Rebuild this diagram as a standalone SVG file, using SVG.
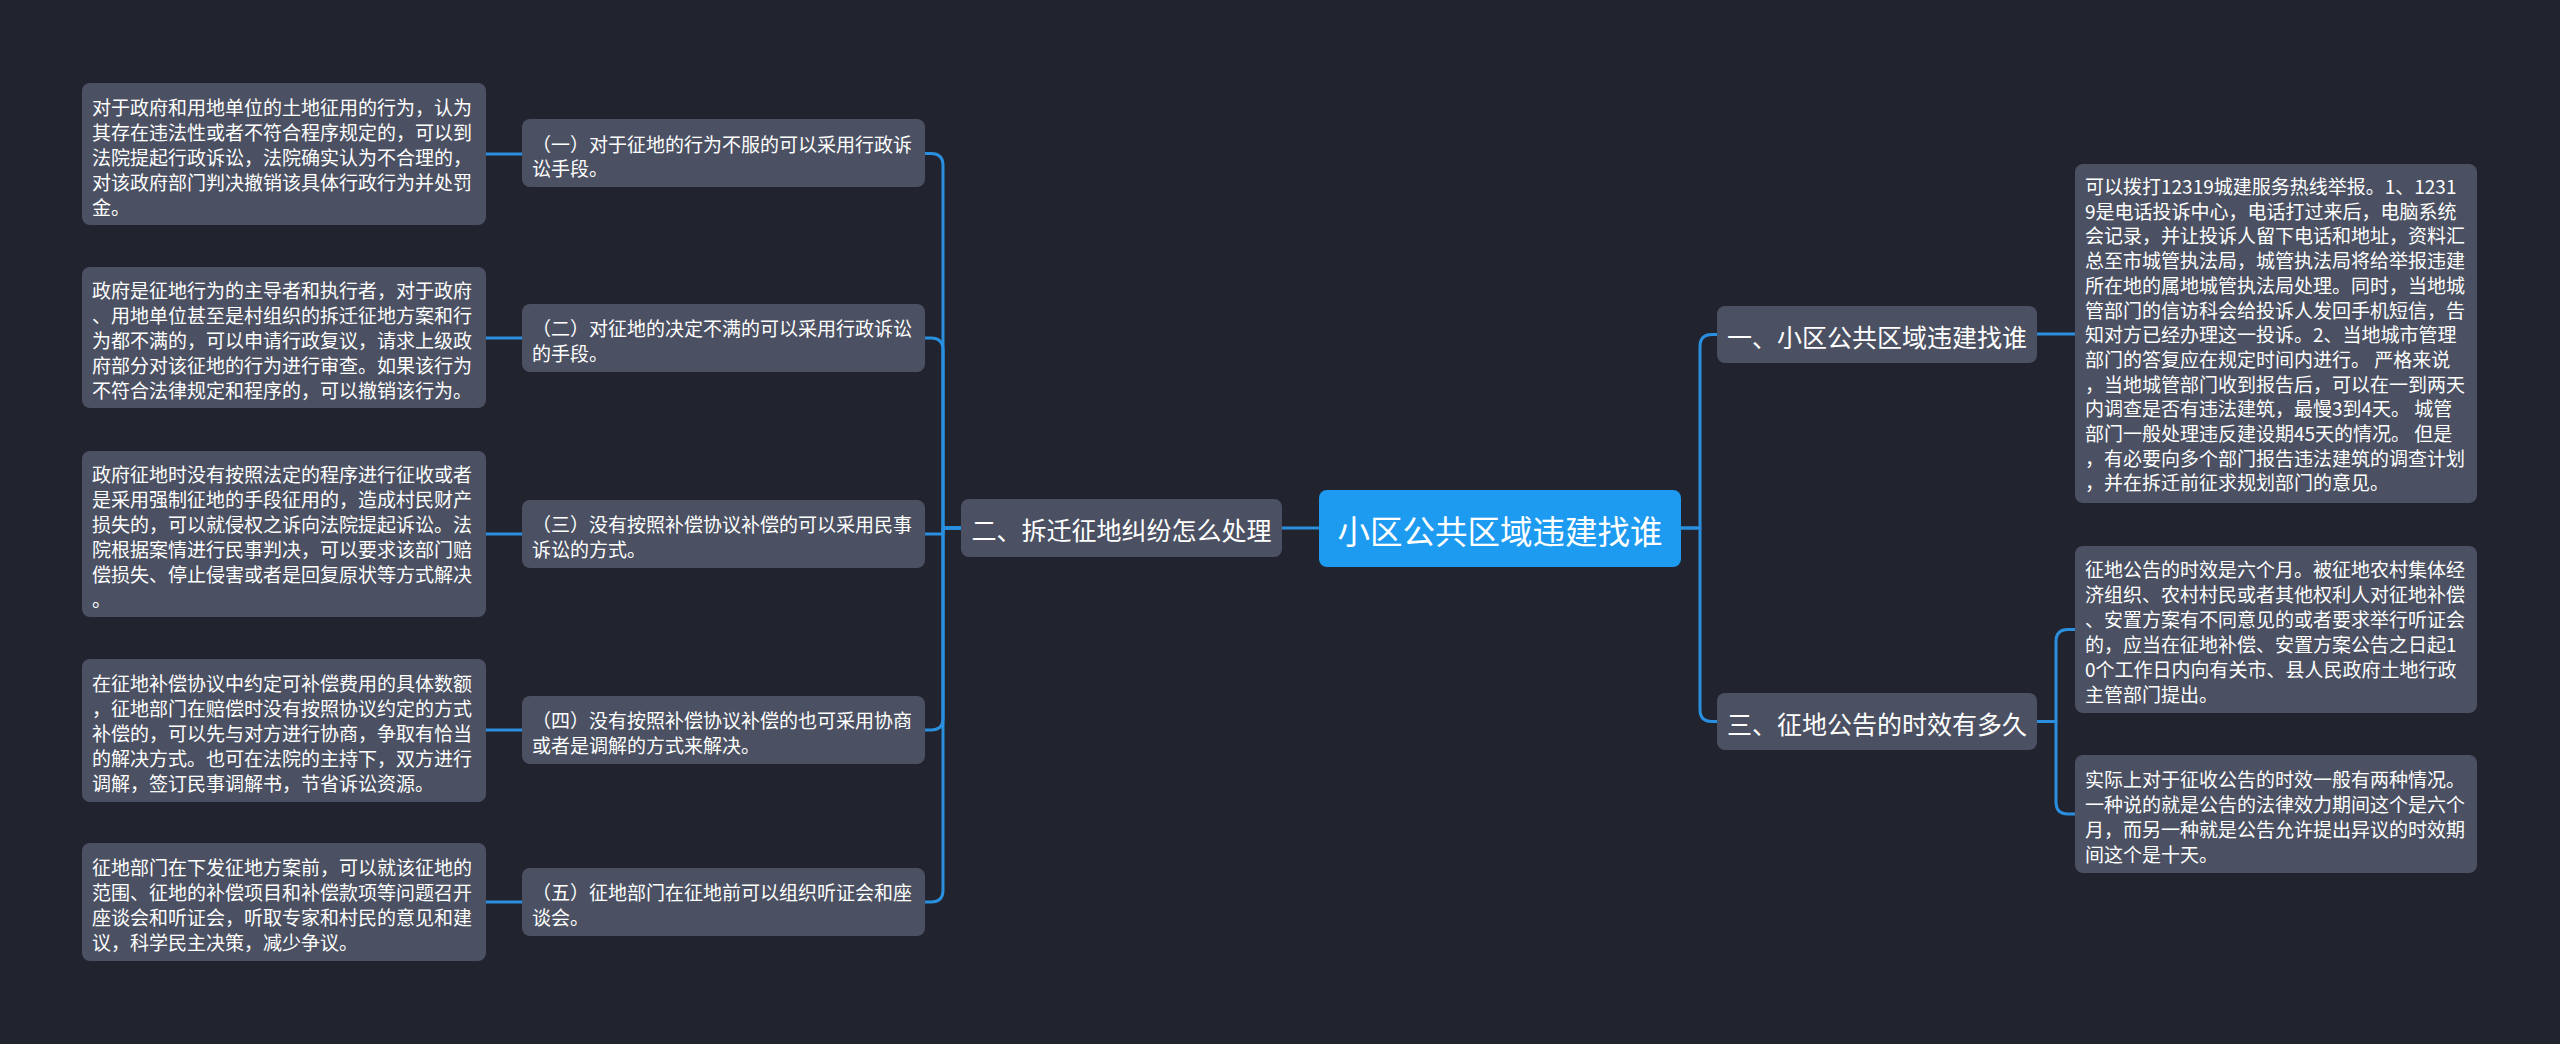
<svg xmlns="http://www.w3.org/2000/svg" width="2560" height="1044" viewBox="0 0 2560 1044">
<style>
.bg{fill:#21242e}
.box{fill:#4b5162}
.main{fill:#1d9bf0}
.t{font-family:"Noto Sans CJK SC","Noto Sans",sans-serif;fill:#ffffff;dominant-baseline:central}
.s{font-size:19px}
.m{font-size:25px}
.b{font-size:32.5px}
.c{fill:none;stroke:#2b8fe0;stroke-width:3;stroke-linecap:round;stroke-linejoin:round}
</style>
<rect class="bg" x="0" y="0" width="2560" height="1044"/>
<g id="connectors">
<path class="c" d="M1319,528 H1282"/>
<path class="c" d="M961,528 H943 V165.5 Q943,153.5 931,153.5 H925"/>
<path class="c" d="M961,528 H943 V350 Q943,338 931,338 H925"/>
<path class="c" d="M961,528 H943 V534 H925"/>
<path class="c" d="M961,528 H943 V718 Q943,730 931,730 H925"/>
<path class="c" d="M961,528 H943 V890 Q943,902 931,902 H925"/>
<path class="c" d="M486,154 H522"/>
<path class="c" d="M486,338 H522"/>
<path class="c" d="M486,534 H522"/>
<path class="c" d="M486,730 H522"/>
<path class="c" d="M486,902 H522"/>
<path class="c" d="M1681,528 H1700 V346.5 Q1700,334.5 1712,334.5 H1717"/>
<path class="c" d="M1681,528 H1700 V709.5 Q1700,721.5 1712,721.5 H1717"/>
<path class="c" d="M2037,334 H2075"/>
<path class="c" d="M2037,721.5 H2056 V641.5 Q2056,629.5 2068,629.5 H2075"/>
<path class="c" d="M2037,721.5 H2056 V802 Q2056,814 2068,814 H2075"/>
</g>
<g id="main">
<rect class="main" x="1319" y="490" width="362" height="77" rx="8"/>
<text class="t b" x="1500" y="529" text-anchor="middle">小区公共区域违建找谁</text>
</g>
<g id="n2">
<rect class="box" x="961" y="499" width="321" height="58" rx="8"/>
<text class="t m" x="1121.5" y="529" text-anchor="middle">二、拆迁征地纠纷怎么处理</text>
</g>
<g id="n1">
<rect class="box" x="1717" y="306" width="320" height="57" rx="8"/>
<text class="t m" x="1877" y="335.5" text-anchor="middle">一、小区公共区域违建找谁</text>
</g>
<g id="n3">
<rect class="box" x="1717" y="693" width="320" height="57" rx="8"/>
<text class="t m" x="1877" y="722.5" text-anchor="middle">三、征地公告的时效有多久</text>
</g>
<g id="s1">
<rect class="box" x="522" y="119" width="403" height="68" rx="8"/>
<text class="t s" x="532"><tspan x="532" y="142.5">（一）对于征地的行为不服的可以采用行政诉</tspan><tspan x="532" y="167">讼手段。</tspan></text>
</g>
<g id="s2">
<rect class="box" x="522" y="304" width="403" height="68" rx="8"/>
<text class="t s" x="532"><tspan x="532" y="327">（二）对征地的决定不满的可以采用行政诉讼</tspan><tspan x="532" y="351.5">的手段。</tspan></text>
</g>
<g id="s3">
<rect class="box" x="522" y="500" width="403" height="68" rx="8"/>
<text class="t s" x="532"><tspan x="532" y="523">（三）没有按照补偿协议补偿的可以采用民事</tspan><tspan x="532" y="547.5">诉讼的方式。</tspan></text>
</g>
<g id="s4">
<rect class="box" x="522" y="696" width="403" height="68" rx="8"/>
<text class="t s" x="532"><tspan x="532" y="719">（四）没有按照补偿协议补偿的也可采用协商</tspan><tspan x="532" y="743.5">或者是调解的方式来解决。</tspan></text>
</g>
<g id="s5">
<rect class="box" x="522" y="868" width="403" height="68" rx="8"/>
<text class="t s" x="532"><tspan x="532" y="891">（五）征地部门在征地前可以组织听证会和座</tspan><tspan x="532" y="915.5">谈会。</tspan></text>
</g>
<g id="l1">
<rect class="box" x="82" y="83" width="404" height="142" rx="8"/>
<text class="t s"><tspan x="92" y="105.5">对于政府和用地单位的土地征用的行为，认为</tspan><tspan x="92" y="130.5">其存在违法性或者不符合程序规定的，可以到</tspan><tspan x="92" y="155.5">法院提起行政诉讼，法院确实认为不合理的，</tspan><tspan x="92" y="180.5">对该政府部门判决撤销该具体行政行为并处罚</tspan><tspan x="92" y="205.5">金。</tspan></text>
</g>
<g id="l2">
<rect class="box" x="82" y="267" width="404" height="141" rx="8"/>
<text class="t s"><tspan x="92" y="289">政府是征地行为的主导者和执行者，对于政府</tspan><tspan x="92" y="314">、用地单位甚至是村组织的拆迁征地方案和行</tspan><tspan x="92" y="339">为都不满的，可以申请行政复议，请求上级政</tspan><tspan x="92" y="364">府部分对该征地的行为进行审查。如果该行为</tspan><tspan x="92" y="389">不符合法律规定和程序的，可以撤销该行为。</tspan></text>
</g>
<g id="l3">
<rect class="box" x="82" y="451" width="404" height="166" rx="8"/>
<text class="t s"><tspan x="92" y="473">政府征地时没有按照法定的程序进行征收或者</tspan><tspan x="92" y="498">是采用强制征地的手段征用的，造成村民财产</tspan><tspan x="92" y="523">损失的，可以就侵权之诉向法院提起诉讼。法</tspan><tspan x="92" y="548">院根据案情进行民事判决，可以要求该部门赔</tspan><tspan x="92" y="573">偿损失、停止侵害或者是回复原状等方式解决</tspan><tspan x="92" y="598">。</tspan></text>
</g>
<g id="l4">
<rect class="box" x="82" y="659" width="404" height="143" rx="8"/>
<text class="t s"><tspan x="92" y="682">在征地补偿协议中约定可补偿费用的具体数额</tspan><tspan x="92" y="707">，征地部门在赔偿时没有按照协议约定的方式</tspan><tspan x="92" y="732">补偿的，可以先与对方进行协商，争取有恰当</tspan><tspan x="92" y="757">的解决方式。也可在法院的主持下，双方进行</tspan><tspan x="92" y="782">调解，签订民事调解书，节省诉讼资源。</tspan></text>
</g>
<g id="l5">
<rect class="box" x="82" y="843" width="404" height="118" rx="8"/>
<text class="t s"><tspan x="92" y="865.5">征地部门在下发征地方案前，可以就该征地的</tspan><tspan x="92" y="890.5">范围、征地的补偿项目和补偿款项等问题召开</tspan><tspan x="92" y="915.5">座谈会和听证会，听取专家和村民的意见和建</tspan><tspan x="92" y="940.5">议，科学民主决策，减少争议。</tspan></text>
</g>
<g id="r1">
<rect class="box" x="2075" y="164" width="402" height="339" rx="8"/>
<text class="t s"><tspan x="2085" y="185">可以拨打12319城建服务热线举报。1、1231</tspan><tspan x="2085" y="209.7">9是电话投诉中心，电话打过来后，电脑系统</tspan><tspan x="2085" y="234.4">会记录，并让投诉人留下电话和地址，资料汇</tspan><tspan x="2085" y="259.1">总至市城管执法局，城管执法局将给举报违建</tspan><tspan x="2085" y="283.8">所在地的属地城管执法局处理。同时，当地城</tspan><tspan x="2085" y="308.5">管部门的信访科会给投诉人发回手机短信，告</tspan><tspan x="2085" y="333.2">知对方已经办理这一投诉。2、当地城市管理</tspan><tspan x="2085" y="357.9">部门的答复应在规定时间内进行。 严格来说</tspan><tspan x="2085" y="382.6">，当地城管部门收到报告后，可以在一到两天</tspan><tspan x="2085" y="407.3">内调查是否有违法建筑，最慢3到4天。 城管</tspan><tspan x="2085" y="432">部门一般处理违反建设期45天的情况。 但是</tspan><tspan x="2085" y="456.7">，有必要向多个部门报告违法建筑的调查计划</tspan><tspan x="2085" y="481.4">，并在拆迁前征求规划部门的意见。</tspan></text>
</g>
<g id="r2">
<rect class="box" x="2075" y="546" width="402" height="167" rx="8"/>
<text class="t s"><tspan x="2085" y="568">征地公告的时效是六个月。被征地农村集体经</tspan><tspan x="2085" y="593">济组织、农村村民或者其他权利人对征地补偿</tspan><tspan x="2085" y="618">、安置方案有不同意见的或者要求举行听证会</tspan><tspan x="2085" y="643">的，应当在征地补偿、安置方案公告之日起1</tspan><tspan x="2085" y="668">0个工作日内向有关市、县人民政府土地行政</tspan><tspan x="2085" y="693">主管部门提出。</tspan></text>
</g>
<g id="r3">
<rect class="box" x="2075" y="755" width="402" height="118" rx="8"/>
<text class="t s"><tspan x="2085" y="778">实际上对于征收公告的时效一般有两种情况。</tspan><tspan x="2085" y="803">一种说的就是公告的法律效力期间这个是六个</tspan><tspan x="2085" y="828">月，而另一种就是公告允许提出异议的时效期</tspan><tspan x="2085" y="853">间这个是十天。</tspan></text>
</g>
</svg>
